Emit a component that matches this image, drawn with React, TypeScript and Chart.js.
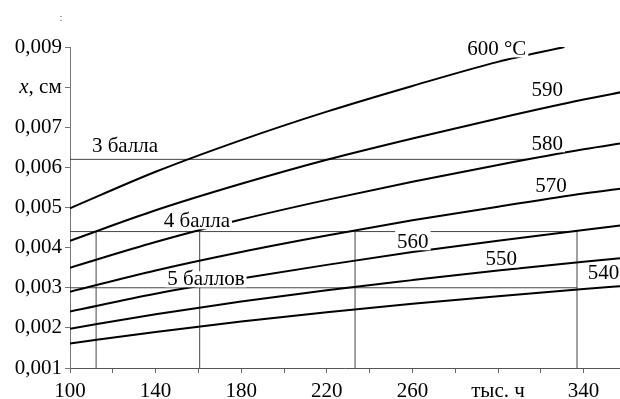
import React, { useEffect, useRef } from "react";
import { Chart, registerables } from "chart.js";

Chart.register(...registerables);

const FONT = "'Liberation Serif', 'Times New Roman', serif";

// time, thousand hours
const hours = [100, 140, 180, 220, 260, 300, 340, 360];
const hours600 = [100, 140, 180, 220, 260, 300, 331];

// scale thickness x, cm, per temperature
const t600 = [0.00498, 0.00589, 0.00668, 0.00739, 0.00803, 0.00863, 0.009];
const t590 = [0.00417, 0.00493, 0.00559, 0.00619, 0.00672, 0.00722, 0.00769, 0.0079];
const t580 = [0.0035, 0.00414, 0.0047, 0.00519, 0.00564, 0.00606, 0.00645, 0.00662];
const t570 = [0.0029, 0.00343, 0.00389, 0.0043, 0.00468, 0.00502, 0.00535, 0.00549];
const t560 = [0.00241, 0.00285, 0.00323, 0.00357, 0.00389, 0.00417, 0.00444, 0.00457];
const t550 = [0.00198, 0.00234, 0.00266, 0.00294, 0.00319, 0.00343, 0.00365, 0.00375];
const t540 = [0.00161, 0.0019, 0.00216, 0.00239, 0.0026, 0.00279, 0.00297, 0.00305];

const curveNames = ["600 °C", "590", "580", "570", "560", "550", "540"];
const curveLabelT = [299.4, 323.0, 323.0, 324.8, 260.2, 301.5, 349.3];
const curveLabelV = [0.00894, 0.00792, 0.006575, 0.005528, 0.004133, 0.003709, 0.00336];

// grade thresholds
const gradeNames = ["3 балла", "4 балла", "5 баллов"];
const gradeLevels = [0.0062, 0.0044, 0.003];
const gradeEnds = [314, 337, 337];
const gradeLabelT = [125.7, 159.3, 163.5];
const gradeLabelV = [0.006525, 0.004656, 0.003211];

// lifetimes (vertical lines) for grade "4 балла"
const lifeTimes = [112.2, 160.6, 233.2, 336.9];
const lifeTop = 0.0044;

const yTicks = [0.001, 0.002, 0.003, 0.004, 0.005, 0.006, 0.007, 0.008, 0.009];
const xTicks = [100, 120, 140, 160, 180, 200, 220, 240, 260, 280, 300, 320, 340];
const xLabels: Record<number, string> = {
  100: "100",
  140: "140",
  180: "180",
  220: "220",
  260: "260",
  300: "тыс. ч",
  340: "340",
};
const yAxisTitleValue = 0.008;

const series = [
  { t: hours600, v: t600 },
  { t: hours, v: t590 },
  { t: hours, v: t580 },
  { t: hours, v: t570 },
  { t: hours, v: t560 },
  { t: hours, v: t550 },
  { t: hours, v: t540 },
];

const annotations = {
  id: "annotations",
  afterDatasetsDraw(chart: any) {
    const { ctx } = chart;
    const x = chart.scales.x;
    const y = chart.scales.y;
    ctx.save();
    ctx.font = `21px ${FONT}`;
    ctx.textAlign = "center";
    ctx.textBaseline = "middle";
    const put = (text: string, tv: number, vv: number, extraTop: number) => {
      const px = x.getPixelForValue(tv);
      const py = y.getPixelForValue(vv);
      const w = ctx.measureText(text).width;
      ctx.fillStyle = "#ffffff";
      ctx.fillRect(px - w / 2 - 2, py - 8 - extraTop, w + 4, 16 + extraTop);
      ctx.fillStyle = "#000000";
      ctx.fillText(text, px, py);
    };
    curveNames.forEach((n, i) => put(n, curveLabelT[i], curveLabelV[i], n === "560" ? 6 : 0));
    gradeNames.forEach((n, i) => put(n, gradeLabelT[i], gradeLabelV[i], 0));

    // y axis title "x, см" in place of the 0.008 tick label
    const right = chart.chartArea.left - 8.3;
    const py = y.getPixelForValue(yAxisTitleValue);
    ctx.textAlign = "right";
    ctx.fillStyle = "#000000";
    ctx.font = `21px ${FONT}`;
    const rest = ", см";
    ctx.fillText(rest, right, py);
    const rw = ctx.measureText(rest).width;
    ctx.font = `italic 21px ${FONT}`;
    ctx.fillText("x", right - rw, py);

    // small mark at the top
    ctx.font = `11px ${FONT}`;
    ctx.fillStyle = "#555555";
    ctx.textAlign = "center";
    ctx.fillText(":", 61, 18);
    ctx.restore();
  },
};

export default function App() {
  const ref = useRef<HTMLCanvasElement | null>(null);

  useEffect(() => {
    if (!ref.current) return;
    const datasets: any[] = [];
    series.forEach((s) => {
      datasets.push({
        data: s.t.map((t, i) => ({ x: t, y: s.v[i] })),
        borderColor: "#000000",
        borderWidth: 2,
        pointRadius: 0,
        cubicInterpolationMode: "monotone",
        fill: false,
      });
    });
    gradeLevels.forEach((lv, i) => {
      datasets.push({
        data: [
          { x: 100, y: lv },
          { x: gradeEnds[i], y: lv },
        ],
        borderColor: "#444444",
        borderWidth: 1,
        pointRadius: 0,
        fill: false,
      });
    });
    lifeTimes.forEach((lt) => {
      datasets.push({
        data: [
          { x: lt, y: 0.001 },
          { x: lt, y: lifeTop },
        ],
        borderColor: "#444444",
        borderWidth: 1,
        pointRadius: 0,
        fill: false,
      });
    });

    const chart = new Chart(ref.current, {
      type: "line",
      data: { datasets },
      options: {
        animation: false,
        responsive: false,
        events: [],
        layout: { padding: { top: 47, left: 0, right: 0, bottom: 0 } },
        plugins: { legend: { display: false }, tooltip: { enabled: false } },
        scales: {
          x: {
            type: "linear",
            min: 100,
            max: 357,
            afterBuildTicks: (s: any) => {
              s.ticks = xTicks.map((v) => ({ value: v }));
            },
            afterFit: (s: any) => {
              s.height = 31;
            },
            grid: { drawOnChartArea: false, drawTicks: true, tickLength: 5, color: "#666666" },
            border: { color: "#555555", width: 1 },
            ticks: {
              autoSkip: false,
              maxRotation: 0,
              minRotation: 0,
              padding: 6,
              color: "#000000",
              font: { family: FONT, size: 21 },
              callback: (v: any) => xLabels[Math.round(Number(v))] ?? "",
            },
          },
          y: {
            type: "linear",
            min: 0.001,
            max: 0.009,
            afterBuildTicks: (s: any) => {
              s.ticks = yTicks.map((v) => ({ value: v }));
            },
            afterFit: (s: any) => {
              s.width = 70;
            },
            grid: { drawOnChartArea: false, drawTicks: true, tickLength: 5, color: "#777777" },
            border: { color: "#777777", width: 1 },
            ticks: {
              autoSkip: false,
              padding: 3,
              color: "#000000",
              font: { family: FONT, size: 21 },
              callback: (v: any) =>
                Math.abs(Number(v) - yAxisTitleValue) < 1e-9 ? "" : Number(v).toFixed(3).replace(".", ","),
            },
          },
        },
      },
      plugins: [annotations],
    });
    return () => chart.destroy();
  }, []);

  return (
    <div style={{ position: "absolute", left: 0, top: 0, width: 620, height: 399, background: "#fff" }}>
      <canvas ref={ref} width={620} height={399} style={{ display: "block" }} />
    </div>
  );
}
